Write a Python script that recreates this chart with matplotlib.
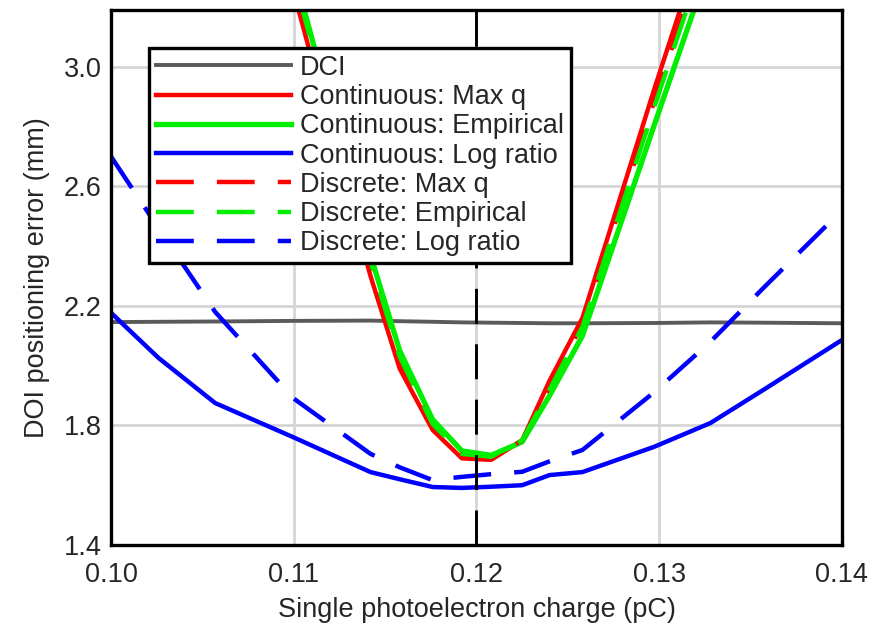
import matplotlib
matplotlib.use("Agg")
import matplotlib.pyplot as plt

plt.rcParams['font.family'] = ['Liberation Sans', 'DejaVu Sans']

# Data
spe_charge = [0.1000, 0.1026, 0.1057, 0.1100, 0.1142, 0.1158, 0.1176, 0.1192,
              0.1208, 0.1225, 0.1240, 0.1258, 0.1297, 0.1328, 0.1357, 0.1400]

dci = [2.146, 2.147, 2.148, 2.150, 2.151, 2.149, 2.147, 2.145,
       2.144, 2.143, 2.142, 2.142, 2.143, 2.145, 2.144, 2.142]

cont_maxq = [5.6, 5.0, 4.3, 3.25, 2.30, 1.99, 1.785, 1.69,
             1.685, 1.75, 1.95, 2.16, 2.92, 3.50, 4.1, 4.9]
cont_emp = [5.7, 5.1, 4.4, 3.32, 2.37, 2.05, 1.82, 1.715,
            1.70, 1.745, 1.90, 2.10, 2.80, 3.35, 4.0, 4.8]
cont_log = [2.177, 2.026, 1.875, 1.760, 1.644, 1.620, 1.594, 1.591,
            1.595, 1.600, 1.634, 1.644, 1.728, 1.808, 1.919, 2.086]

disc_maxq = [5.65, 5.05, 4.35, 3.29, 2.34, 2.02, 1.80, 1.70,
             1.69, 1.75, 1.93, 2.14, 2.88, 3.45, 4.05, 4.85]
disc_emp = [5.66, 5.06, 4.36, 3.30, 2.35, 2.03, 1.805, 1.705,
            1.695, 1.75, 1.92, 2.13, 2.86, 3.43, 4.03, 4.83]
disc_log = [2.70, 2.46, 2.18, 1.89, 1.705, 1.66, 1.617, 1.628,
            1.637, 1.645, 1.68, 1.718, 1.91, 2.08, 2.26, 2.52]

optimum_charge = 0.12

labels = ["DCI", "Continuous: Max q", "Continuous: Empirical", "Continuous: Log ratio",
          "Discrete: Max q", "Discrete: Empirical", "Discrete: Log ratio"]

xticks = [0.10, 0.11, 0.12, 0.13, 0.14]
yticks = [1.4, 1.8, 2.2, 2.6, 3.0]

FS = 19.5
TXT = '#262626'

fig = plt.figure(figsize=(8.77, 6.34), dpi=100)
ax = fig.add_axes([0.1266, 0.1404, 0.8334, 0.8436])

lw = 3.2
dash = (8.5, 5.2)
ax.plot(spe_charge, dci, color='#5a5a5a', lw=2.8, label=labels[0])
ax.plot(spe_charge, cont_maxq, color='#ff0000', lw=lw, label=labels[1])
ax.plot(spe_charge, cont_emp, color='#00ee00', lw=lw + 0.6, label=labels[2])
ax.plot(spe_charge, cont_log, color='#0000ff', lw=lw, label=labels[3])
ax.plot(spe_charge, disc_maxq, color='#ff0000', lw=lw, ls=(0, dash), label=labels[4])
ax.plot(spe_charge, disc_emp, color='#00ee00', lw=lw, ls=(0, dash), label=labels[5])
ax.plot(spe_charge, disc_log, color='#0000ff', lw=lw, ls=(0, dash), label=labels[6])

ax.axvline(optimum_charge, color='black', lw=2.1, ls=(0, (12, 7)), zorder=5)

ax.set_xlim(0.10, 0.14)
ax.set_ylim(1.4, 3.19)
ax.set_xticks(xticks)
ax.set_yticks(yticks)
ax.set_xticklabels([f"{t:.2f}" for t in xticks])
ax.set_yticklabels([f"{t:.1f}" for t in yticks])
ax.tick_params(axis='both', length=0, labelsize=FS, colors=TXT)
ax.tick_params(axis='x', pad=12)
ax.tick_params(axis='y', pad=7)
ax.grid(True, color='#d6d6d6', lw=2.0)
ax.set_axisbelow(True)
for s in ax.spines.values():
    s.set_linewidth(2.4)
    s.set_color('black')

ax.set_xlabel("Single photoelectron charge (pC)", fontsize=FS, color=TXT, labelpad=7)
ax.set_ylabel("DOI positioning error (mm)", fontsize=FS, color=TXT, labelpad=10)

leg = ax.legend(loc='upper left', bbox_to_anchor=(149 / 877, 1 - 48 / 634),
                bbox_transform=fig.transFigure, fontsize=FS, frameon=True,
                fancybox=False, framealpha=1, edgecolor='black',
                handlelength=5.0, handletextpad=0.32, labelspacing=0.12,
                borderpad=0.25, borderaxespad=0)
leg.get_frame().set_linewidth(2.4)
for t in leg.get_texts():
    t.set_color(TXT)

fig.savefig("out.png", dpi=100)
